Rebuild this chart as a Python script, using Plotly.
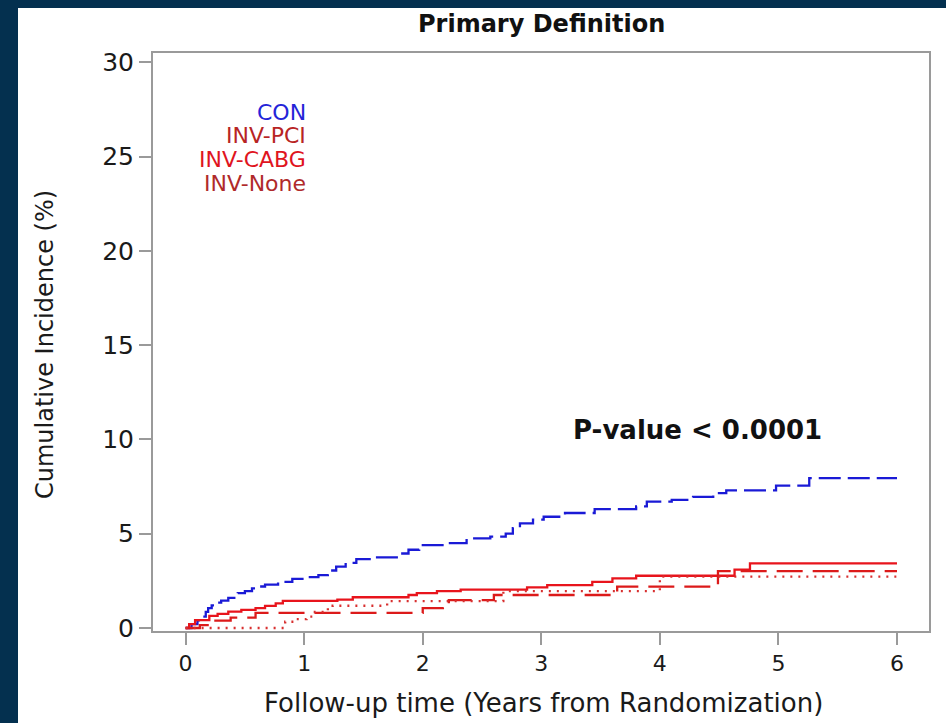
import plotly.graph_objects as go

# ---- data ----
con_t = [0, 0.05, 0.10, 0.14, 0.17, 0.19, 0.22, 0.25, 0.30, 0.36, 0.44, 0.50, 0.56, 0.62, 0.67,
         0.78, 0.90, 1.00, 1.12, 1.20, 1.27, 1.35, 1.44, 1.60, 1.80, 1.88, 1.97, 2.20, 2.37,
         2.57, 2.70, 2.76, 2.82, 2.93, 3.02, 3.20, 3.45, 3.80, 3.89, 4.10, 4.28, 4.45, 4.56,
         4.98, 5.26, 6.00]
con_v = [0, 0.20, 0.40, 0.60, 0.85, 1.05, 1.20, 1.35, 1.45, 1.60, 1.85, 1.95, 2.10, 2.20, 2.30,
         2.45, 2.60, 2.70, 2.80, 3.05, 3.25, 3.45, 3.65, 3.75, 3.95, 4.15, 4.40, 4.50, 4.75,
         4.85, 5.00, 5.30, 5.55, 5.75, 5.90, 6.10, 6.30, 6.45, 6.70, 6.80, 6.95, 7.15, 7.30,
         7.55, 7.95, 7.95]

pci_t = [0, 0.03, 0.08, 0.20, 0.27, 0.36, 0.47, 0.59, 0.67, 0.76, 0.82, 1.28, 1.41, 1.88, 1.95,
         2.12, 2.32, 2.88, 3.05, 3.43, 3.60, 3.80, 4.63, 4.76, 6.00]
pci_v = [0, 0.20, 0.42, 0.64, 0.75, 0.87, 0.96, 1.05, 1.17, 1.31, 1.44, 1.50, 1.63, 1.75, 1.85,
         1.95, 2.03, 2.15, 2.27, 2.45, 2.63, 2.77, 3.10, 3.43, 3.43]

cabg_t = [0, 0.12, 0.22, 0.38, 0.59, 2.00, 2.17, 2.22, 2.60, 3.64, 4.49, 6.00]
cabg_v = [0, 0.15, 0.39, 0.55, 0.80, 1.05, 1.20, 1.48, 1.75, 2.19, 3.02, 3.02]

none_t = [0, 0.84, 0.92, 1.02, 1.09, 1.20, 1.24, 1.70, 2.68, 4.00, 6.00]
none_v = [0, 0.33, 0.47, 0.60, 0.85, 1.05, 1.18, 1.43, 1.95, 2.72, 2.72]

legend_labels = ["CON", "INV-PCI", "INV-CABG", "INV-None"]
legend_colors = ["#2424d8", "#b82424", "#e0141e", "#b02a2a"]

x_ticks = [0, 1, 2, 3, 4, 5, 6]
y_ticks = [0, 5, 10, 15, 20, 25, 30]

FONT = "DejaVu Sans"
NAVY = "#04304f"

fig = go.Figure()
series = [
    (con_t, con_v, "#1a1ad6", "22px,7px", "CON"),
    (pci_t, pci_v, "#e8141c", "solid", "INV-PCI"),
    (cabg_t, cabg_v, "#dc1a1a", "26px,10px", "INV-CABG"),
    (none_t, none_v, "#d83030", "2px,6px", "INV-None"),
]
for t, v, c, d, n in series:
    fig.add_trace(go.Scatter(x=t, y=v, mode="lines", name=n,
                             line=dict(color=c, width=2.3, dash=d, shape="hv"),
                             showlegend=False, hoverinfo="skip"))

L, R, T, B = 153, 929, 53, 631
W, H = R - L, B - T
def px(xp): return (xp - L) / W
def py(yp): return (B - yp) / H

# legend as right-aligned coloured text
for i, (lab, col) in enumerate(zip(legend_labels, legend_colors)):
    fig.add_annotation(x=px(308), y=py(112 + i * 23.7), xref="paper", yref="paper",
                       text=lab, showarrow=False, xanchor="right", yanchor="middle",
                       font=dict(family=FONT, size=22, color=col))

fig.add_annotation(x=px(571), y=py(430), xref="paper", yref="paper",
                   text="<b>P-value < 0.0001</b>", showarrow=False,
                   xanchor="left", yanchor="middle",
                   font=dict(family=FONT, size=26, color="#111111"))

# title and axis titles
fig.add_annotation(x=px(541), y=py(24), xref="paper", yref="paper",
                   text="<b>Primary Definition</b>", showarrow=False,
                   xanchor="center", yanchor="middle",
                   font=dict(family=FONT, size=24, color="#111111"))
fig.add_annotation(x=px(543), y=py(703), xref="paper", yref="paper",
                   text="Follow-up time (Years from Randomization)", showarrow=False,
                   xanchor="center", yanchor="middle",
                   font=dict(family=FONT, size=26, color="#1a1a1a"))
fig.add_annotation(x=px(45), y=py(345), xref="paper", yref="paper",
                   text="Cumulative Incidence (%)", showarrow=False, textangle=-90,
                   xanchor="center", yanchor="middle",
                   font=dict(family=FONT, size=24, color="#1a1a1a"))

# white panel over navy background
fig.add_shape(type="rect", xref="paper", yref="paper",
              x0=px(18), x1=px(946), y0=py(723), y1=py(8),
              fillcolor="white", line=dict(width=0), layer="below")

axis_common = dict(showline=True, linecolor="#9a9a9a", linewidth=2, mirror=True,
                   ticks="outside", ticklen=12, tickwidth=2, tickcolor="#9a9a9a",
                   showgrid=False, zeroline=False)

fig.update_layout(
    width=946, height=723,
    margin=dict(l=L, r=946 - R, t=T, b=723 - B),
    paper_bgcolor=NAVY, plot_bgcolor="white",
    xaxis=dict(range=[-0.275, 6.27], tickvals=x_ticks, ticktext=[str(v) for v in x_ticks],
               tickfont=dict(family=FONT, size=22, color="#1a1a1a"),
               **axis_common),
    yaxis=dict(range=[-0.16, 30.5], tickvals=y_ticks, ticktext=[str(v) for v in y_ticks],
               tickfont=dict(family=FONT, size=25, color="#1a1a1a"),
               **axis_common),
)

fig.write_html("out.html")
